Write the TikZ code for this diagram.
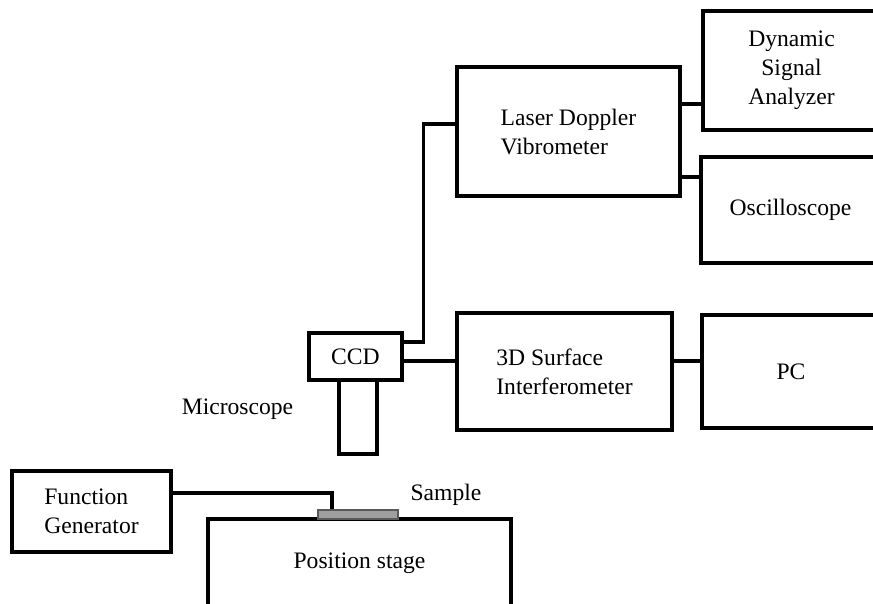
\documentclass[tikz,border=0pt]{standalone}
\usepackage{fontspec}
\setmainfont{Liberation Serif}
\usepackage{tikz}
\usetikzlibrary{positioning,calc}

\begin{document}
\begin{tikzpicture}[
  x=0.5pt, y=-0.5pt,
  unit/.style={rectangle, draw=black, line width=1.6pt, fill=white, inner sep=0pt, font=\fontsize{11.8}{14.5}\selectfont},
  lbl/.style={inner sep=0pt, font=\fontsize{11.8}{14.5}\selectfont},
  wire/.style={line width=1.6pt}
]
\path[use as bounding box, clip] (0,0) rectangle (873,604);

\node[unit, align=left, minimum width=111.5pt, minimum height=64.5pt] (ldv) at (568.5,131.5) {Laser Doppler\\Vibrometer};
\node[unit, align=center, minimum width=88.5pt, minimum height=59.5pt] (dsa) at (791.5,70.5) {Dynamic\\Signal\\Analyzer};
\node[unit, minimum width=89.5pt, minimum height=53pt] (osc) at (790.5,210) {Oscilloscope};

\node[unit, minimum width=46.5pt, minimum height=23.5pt] (ccd) at (355.5,356.5) {CCD};
\node[unit, minimum width=19pt, minimum height=37pt] (tube) at (358,417) {};
\node[unit, align=left, minimum width=107.5pt, minimum height=58.5pt] (interf) at (564.5,371.5) {3D Surface\\Interferometer};
\node[unit, minimum width=89pt, minimum height=56.5pt] (pc) at (791,371.5) {PC};
\node[lbl] (micro) at (237.5,409) {Microscope};

\node[unit, align=left, minimum width=79.5pt, minimum height=40.5pt] (fg) at (91.5,511.5) {Function\\Generator};
\node[unit, minimum width=151.5pt, minimum height=61pt] (stage) at (359.5,580) {};
\node[lbl] (stagetext) at (359.5,563) {Position stage};
\node[rectangle, draw=gray!70!black, line width=0.6pt, fill=gray!75, inner sep=0pt, minimum width=40pt, minimum height=4.5pt] (sample) at (358,514.5) {};
\node[lbl] (sampletext) at (446,495) {Sample};

\draw[wire] ([yshift=7.25pt]ccd.east) -- ++(10pt,0) |- ([yshift=3.75pt]ldv.west);
\draw[wire] ([yshift=13.75pt]ldv.east) -- ([yshift=13.75pt]ldv.east -| dsa.west);
\draw[wire] ([yshift=-22.75pt]ldv.east) -- ([yshift=-22.75pt]ldv.east -| osc.west);
\draw[wire] ([yshift=-2.25pt]ccd.east) -- ([yshift=-2.25pt]ccd.east -| interf.west);
\draw[wire] ([yshift=5.25pt]interf.east) -- ([yshift=5.25pt]interf.east -| pc.west);
\draw[wire] ([yshift=9.25pt]fg.east) -| ([xshift=-13pt]sample.north);
\end{tikzpicture}
\end{document}
